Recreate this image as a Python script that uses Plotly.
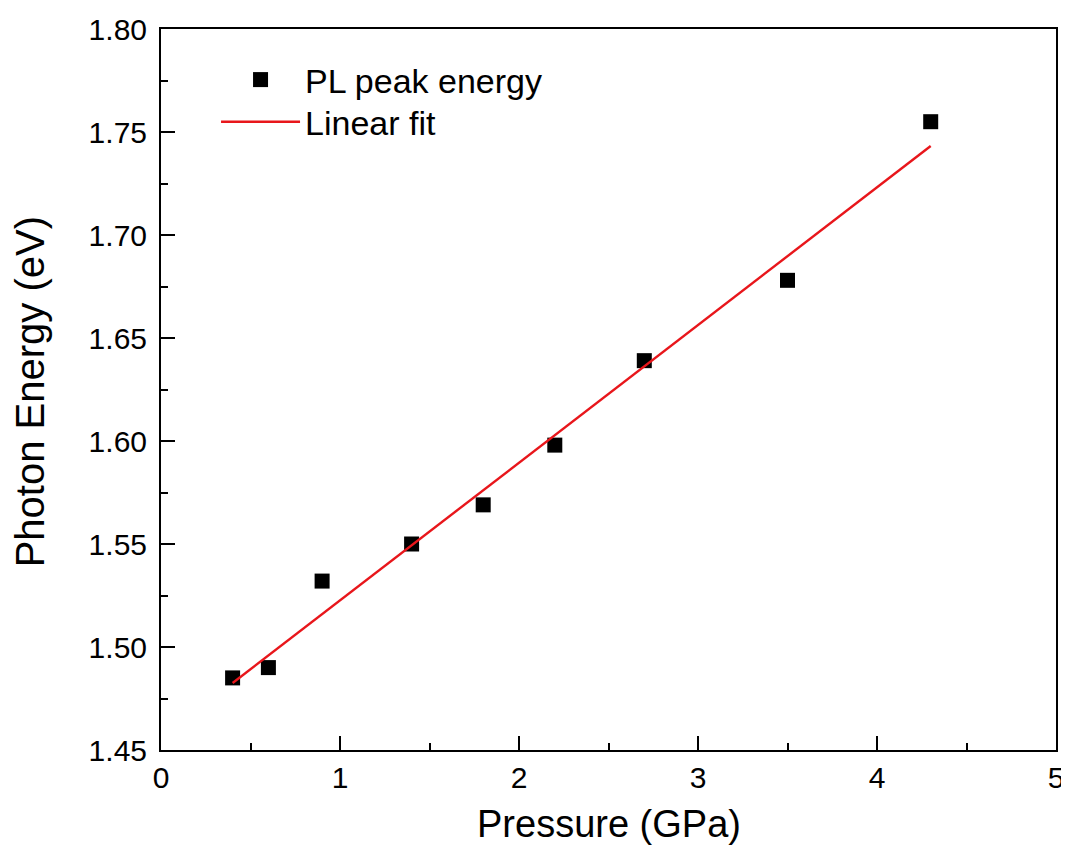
import plotly.graph_objects as go

pressure = [0.4, 0.6, 0.9, 1.4, 1.8, 2.2, 2.7, 3.5, 4.3]
energy = [1.485, 1.490, 1.532, 1.550, 1.569, 1.598, 1.639, 1.678, 1.755]
fit_x = [0.4, 4.3]
fit_y = [1.4825, 1.7432]

x_ticks = [0, 1, 2, 3, 4, 5]
y_ticks = [1.45, 1.50, 1.55, 1.60, 1.65, 1.70, 1.75, 1.80]

font_family = "Liberation Sans, Arial, sans-serif"

fig = go.Figure()
fig.add_trace(go.Scatter(
    x=pressure, y=energy, mode="markers", name="PL peak energy",
    marker=dict(symbol="square", size=15, color="black", line=dict(width=0)),
    legend="legend",
))
fig.add_trace(go.Scatter(
    x=fit_x, y=fit_y, mode="lines", name="Linear fit",
    line=dict(color="#e8161b", width=2.4),
    legend="legend2",
))

axis_common = dict(
    showline=True, linecolor="black", linewidth=2, mirror=True,
    showgrid=False, zeroline=False, automargin=False,
    ticks="inside", ticklen=14, tickwidth=2, tickcolor="black",
    tickfont=dict(size=30, color="black", family=font_family),
)

fig.update_xaxes(
    range=[0, 5], tickvals=x_ticks, ticktext=[str(v) for v in x_ticks],
    minor=dict(ticks="inside", ticklen=7, tickwidth=2, tickcolor="black", dtick=0.5, showgrid=False),
    **axis_common,
)
fig.update_yaxes(
    range=[1.45, 1.80], tickvals=y_ticks, ticktext=[f"{v:.2f}" for v in y_ticks],
    minor=dict(ticks="inside", ticklen=7, tickwidth=2, tickcolor="black", dtick=0.025, showgrid=False),
    ticklabelstandoff=6,
    **axis_common,
)

fig.add_annotation(
    text="Pressure (GPa)", xref="paper", yref="paper", x=0.5, y=-0.102,
    xanchor="center", yanchor="middle", showarrow=False,
    font=dict(size=38, color="black", family=font_family),
)
fig.add_annotation(
    text="Photon Energy (eV)", xref="paper", yref="paper", x=-0.146, y=0.4965,
    xanchor="center", yanchor="middle", showarrow=False, textangle=-90,
    font=dict(size=40, color="black", family=font_family),
)

legend_common = dict(
    xanchor="left", yanchor="top",
    font=dict(size=34, color="black", family=font_family),
    bgcolor="rgba(0,0,0,0)", itemwidth=79,
)

# the page body adds an 8px offset, so the figure is sized to fill the rest of the window
fig.update_layout(
    width=1061, height=848,
    margin=dict(l=153, r=13, t=21, b=106),
    plot_bgcolor="white", paper_bgcolor="white",
    font=dict(family=font_family, color="black"),
    legend=dict(x=0.0615, y=0.9695, **legend_common),
    legend2=dict(x=0.0615, y=0.911, **legend_common),
    showlegend=True,
)

fig.write_html("out.html")
